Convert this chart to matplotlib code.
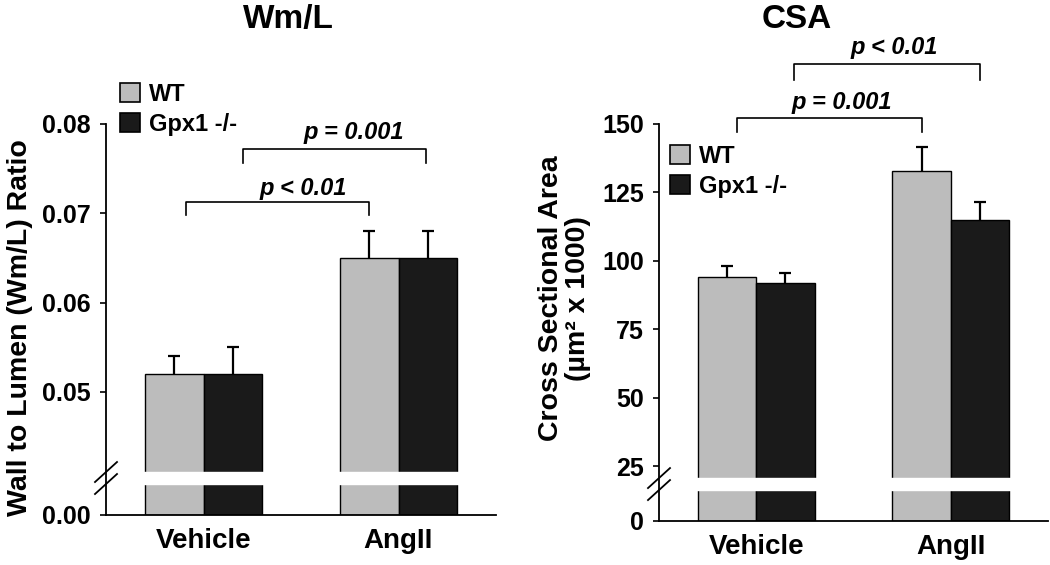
import matplotlib
matplotlib.use("Agg")
import matplotlib.pyplot as plt
from matplotlib.patches import Patch
import numpy as np

plt.rcParams['font.family'] = ['Liberation Sans', 'DejaVu Sans']
plt.rcParams['font.weight'] = 'bold'

# data
groups = ['Vehicle', 'AngII']
series = ['WT', 'Gpx1 -/-']

wml_wt = [0.052, 0.065]
wml_wt_err = [0.002, 0.003]
wml_ko = [0.052, 0.065]
wml_ko_err = [0.003, 0.003]

csa_wt = [94, 133]
csa_wt_err = [4.0, 8.5]
csa_ko = [92, 115]
csa_ko_err = [3.5, 6.4]

wml_ticks = [0.0, 0.05, 0.06, 0.07, 0.08]
wml_ticklabels = ['0.00', '0.05', '0.06', '0.07', '0.08']
csa_ticks = [0, 25, 50, 75, 100, 125, 150]

# brackets: x from, x to, y top, y of drops, label, label x, label y
wml_brackets = [(-0.09, 0.85, 0.0713, 0.0698, 'p < 0.01', 0.51, 0.0728),
                (0.20, 1.14, 0.0772, 0.0756, 'p = 0.001', 0.77, 0.0791)]
csa_brackets = [(-0.10, 0.85, 152.2, 147.1, 'p = 0.001', 0.44, 158.0),
                (0.196, 1.15, 172.0, 166.0, 'p < 0.01', 0.71, 177.8)]

GRAY = '#bcbcbc'
BLACK = '#1a1a1a'


def broken_scale(B, L):
    # values below B squeezed into L units, linear above
    def fwd(v):
        v = np.asarray(v, dtype=float)
        return np.where(v < B, v * L / B, L + v - B)

    def inv(u):
        u = np.asarray(u, dtype=float)
        return np.where(u < L, u * B / L, u - L + B)
    return fwd, inv


def panel(ax, wt, wt_err, ko, ko_err, B, L, gap_c, gap_h, px_unit, ylim,
          ticks, ticklabels, brackets, ylabel, title, title_xy, leg_xy, lab_xy):
    fwd, inv = broken_scale(B, L)
    ax.set_yscale('function', functions=(fwd, inv))
    x = np.arange(len(groups))
    w = 0.3
    ax.bar(x - w / 2, wt, w, color=GRAY, edgecolor='black', linewidth=1.0, zorder=1)
    ax.bar(x + w / 2, ko, w, color=BLACK, edgecolor='black', linewidth=1.0, zorder=1)
    # symmetric bars drawn behind, so only the upper half shows
    ax.errorbar(x - w / 2, wt, yerr=wt_err, fmt='none',
                ecolor='black', elinewidth=1.6, capsize=4.5, capthick=1.6, zorder=0.5)
    ax.errorbar(x + w / 2, ko, yerr=ko_err, fmt='none',
                ecolor='black', elinewidth=1.6, capsize=4.5, capthick=1.6, zorder=0.5)

    # white gap through the bars
    lo, hi = inv(gap_c - gap_h), inv(gap_c + gap_h)
    ax.axhspan(float(lo), float(hi), color='white', zorder=2)

    # break marks on the y spine
    ax_w = ax.get_position().width * ax.figure.get_figwidth() * ax.figure.dpi
    for off in (-6, 6):
        yc = gap_c + off / px_unit
        ys = [float(inv(yc - 10 / px_unit)), float(inv(yc + 10 / px_unit))]
        xs = [-11 / ax_w, 11 / ax_w]
        ax.plot(xs, ys, color='black', lw=1.3, clip_on=False, zorder=5,
                transform=ax.get_yaxis_transform())

    ax.set_ylim(*ylim)
    ax.set_xlim(-0.5, 1.5)
    ax.set_yticks(ticks)
    ax.set_yticklabels(ticklabels)
    ax.set_xticks(x)
    ax.set_xticklabels(groups, fontsize=20, fontweight='bold')
    ax.tick_params(axis='x', length=0, pad=9)
    ax.tick_params(axis='y', length=4, width=1.2, pad=7, labelsize=18)
    for s in ('top', 'right'):
        ax.spines[s].set_visible(False)
    for s in ('left', 'bottom'):
        ax.spines[s].set_linewidth(1.3)

    ax.set_ylabel(ylabel, fontsize=20.5, fontweight='bold', linespacing=1.05)
    ax.yaxis.set_label_coords(*lab_xy)

    for x0, x1, yt, yd, txt, tx, ty in brackets:
        ax.plot([x0, x0, x1, x1], [yd, yt, yt, yd], color='black', lw=1.2,
                clip_on=False)
        ax.text(tx, ty, txt, ha='center', va='center', fontsize=17,
                fontweight='bold', style='italic', clip_on=False)

    ax.text(title_xy[0], title_xy[1], title, transform=ax.transAxes, ha='center',
            va='center', fontsize=24, fontweight='bold')

    handles = [Patch(facecolor=GRAY, edgecolor='black', linewidth=1.2),
               Patch(facecolor=BLACK, edgecolor='black', linewidth=1.2)]
    ax.legend(handles, series, loc='upper left', bbox_to_anchor=leg_xy,
              frameon=False, handlelength=0.85, handleheight=0.85,
              handletextpad=0.4, labelspacing=0.3, borderpad=0, borderaxespad=0,
              prop={'weight': 'bold', 'size': 17})


fig = plt.figure(figsize=(10.5, 5.65), dpi=100)
ax1 = fig.add_axes([106 / 1050, 50 / 565, 390 / 1050, 391 / 565])
ax2 = fig.add_axes([659 / 1050, 44 / 565, 389 / 1050, 397 / 565])

panel(ax1, wml_wt, wml_wt_err, wml_ko, wml_ko_err,
      B=0.04, L=0.00377, gap_c=0.00414, gap_h=0.00067, px_unit=8933,
      ylim=(0, 0.08), ticks=wml_ticks, ticklabels=wml_ticklabels,
      brackets=wml_brackets, ylabel='Wall to Lumen (Wm/L) Ratio',
      title='Wm/L', title_xy=(0.467, 1.268), leg_xy=(0.035, 1.105),
      lab_xy=(-0.187, 0.48))

panel(ax2, csa_wt, csa_wt_err, csa_ko, csa_ko_err,
      B=20, L=15.1, gap_c=13.5, gap_h=2.19, px_unit=2.736,
      ylim=(0, 150), ticks=csa_ticks, ticklabels=[str(t) for t in csa_ticks],
      brackets=csa_brackets, ylabel='Cross Sectional Area\n(µm² x 1000)',
      title='CSA', title_xy=(0.355, 1.264), leg_xy=(0.028, 0.948),
      lab_xy=(-0.175, 0.56))

fig.savefig('out.png', dpi=100)
